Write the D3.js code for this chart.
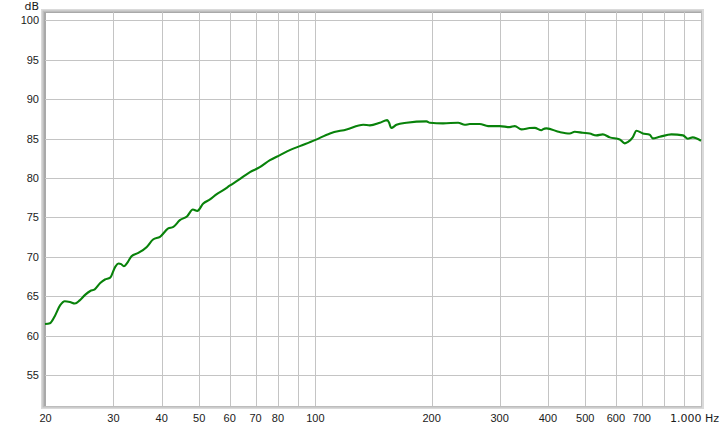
<!DOCTYPE html>
<html>
<head>
<meta charset="utf-8">
<script src="https://cdn.jsdelivr.net/npm/d3@7/dist/d3.min.js"></script>
<style>
  html, body { margin: 0; padding: 0; background: #ffffff; }
  svg { display: block; font-family: "DejaVu Sans", sans-serif; }
  .lbl text { font-size: 11px; fill: #1a1a1a; }
  .grid line { stroke: #c4c4c4; stroke-width: 1; shape-rendering: crispEdges; }
  .grid path { display: none; }
  .lbl path, .lbl line { display: none; }
</style>
</head>
<body>
<svg id="chart" width="723" height="428"></svg>
<script>
// ---- data ----
const freqHz = [20, 20.6, 21.2, 21.9, 22.5, 23.2, 23.9, 24.6, 25.4, 26.2, 26.9, 27.8, 28.6, 29.5, 30.4, 31.0, 31.5, 32.0, 32.8, 33.5, 34.9, 36.7, 38.1, 39.7, 41.7, 43.0, 44.7, 46.7, 48.3, 49.6, 51.4, 53.5, 55.7, 57.9, 60.3, 63.3, 67.9, 72.0, 76.5, 81.2, 86.1, 91.4, 100, 109.4, 120.8, 133.4, 138.8, 147.3, 153.9, 155.7, 157.6, 162.7, 172.7, 194.6, 198.5, 214.8, 234.9, 244.5, 251.9, 267.3, 280.9, 301.3, 319.8, 329.4, 342.8, 360.2, 371, 386.3, 389.2, 397.8, 430.7, 457.2, 471, 494.1, 515, 536.1, 556.7, 580.4, 616, 634.6, 646, 665.6, 680.5, 706.5, 736.6, 749.9, 781.7, 838.3, 898.5, 924, 951.9, 1000];
const levelDb = [61.4, 61.5, 62.4, 63.8, 64.3, 64.2, 64.0, 64.4, 65.1, 65.6, 65.8, 66.6, 67.05, 67.3, 68.65, 69.08, 69.0, 68.74, 69.3, 70.01, 70.43, 71.19, 72.13, 72.46, 73.53, 73.73, 74.58, 75.09, 75.94, 75.76, 76.70, 77.21, 77.89, 78.39, 78.99, 79.66, 80.68, 81.31, 82.20, 82.84, 83.47, 83.98, 84.74, 85.59, 86.10, 86.69, 86.61, 86.94, 87.28, 86.94, 86.27, 86.69, 86.94, 87.12, 86.94, 86.87, 86.94, 86.69, 86.78, 86.78, 86.52, 86.52, 86.39, 86.52, 86.10, 86.27, 86.30, 85.99, 86.10, 86.23, 85.76, 85.59, 85.80, 85.67, 85.57, 85.34, 85.47, 85.09, 84.83, 84.33, 84.49, 85.09, 85.93, 85.59, 85.42, 84.96, 85.16, 85.47, 85.34, 84.91, 85.09, 84.66];

const yTicks = [55, 60, 65, 70, 75, 80, 85, 90, 95, 100];
const xGridTicks = [30, 40, 50, 60, 70, 80, 90, 100, 200, 300, 400, 500, 600, 700, 800, 900];
const xLabelTicks = [20, 30, 40, 50, 60, 70, 80, 100, 200, 300, 400, 500, 600, 700];
const xEndLabel = "1.000 Hz";
const yUnit = "dB";

// ---- layout ----
const L = 45, R = 701, T = 12, B = 406;
const svg = d3.select("#chart");

const x = d3.scaleLog().domain([20, 1000]).range([L, R]);
const y = d3.scaleLinear().domain([51, 101]).range([B, T]);

// frame with shadow
svg.append("rect").attr("x", 41).attr("y", 9).attr("width", 704 - 41).attr("height", 409 - 9).attr("fill", "#dadada");
svg.append("rect").attr("x", 42.5).attr("y", 10.5).attr("width", 702 - 42.5).attr("height", 407.5 - 10.5).attr("fill", "#bdbdbd");
svg.append("rect").attr("x", 44).attr("y", 12).attr("width", 701 - 44).attr("height", 406 - 12).attr("fill", "#a9a9a9");
svg.append("rect").attr("x", L + 1).attr("y", T + 1).attr("width", R - L - 1).attr("height", B - T - 1).attr("fill", "#ffffff");

// gridlines
svg.append("g").attr("class", "grid")
  .attr("transform", `translate(${L},0)`)
  .call(d3.axisLeft(y).tickValues(yTicks).tickSize(-(R - L)).tickFormat(""))
  .selectAll("line").attr("transform", "translate(0,0.5)");
svg.append("g").attr("class", "grid")
  .attr("transform", `translate(0,${B})`)
  .call(d3.axisBottom(x).tickValues(xGridTicks).tickSize(-(B - T)).tickFormat(""))
  .selectAll("line").attr("transform", "translate(0.5,0)");

// y labels
const yAx = svg.append("g").attr("class", "lbl")
  .attr("transform", `translate(${L},0)`)
  .call(d3.axisLeft(y).tickValues(yTicks).tickSize(0).tickPadding(6).tickFormat(d3.format("d")));
yAx.selectAll("text").attr("dy", "0.36em");

svg.append("text").attr("x", 39).attr("y", 9.5).attr("text-anchor", "end")
  .attr("font-size", "11px").attr("fill", "#1a1a1a").text(yUnit);

// x labels
const xAx = svg.append("g").attr("class", "lbl")
  .attr("transform", `translate(0,${B})`)
  .call(d3.axisBottom(x).tickValues(xLabelTicks).tickSize(0).tickPadding(8).tickFormat(d3.format("d")));

svg.append("text").attr("x", 719).attr("y", 422).attr("text-anchor", "end")
  .attr("font-size", "11px").attr("fill", "#1a1a1a").text(xEndLabel);

// curve
const data = freqHz.map((f, i) => ({ f, v: levelDb[i] }));
svg.append("path")
  .datum(data)
  .attr("fill", "none")
  .attr("stroke", "#08820a")
  .attr("stroke-width", 2.1)
  .attr("stroke-linejoin", "round")
  .attr("d", d3.line().x(d => x(d.f)).y(d => y(d.v)).curve(d3.curveMonotoneX));
</script>
</body>
</html>
